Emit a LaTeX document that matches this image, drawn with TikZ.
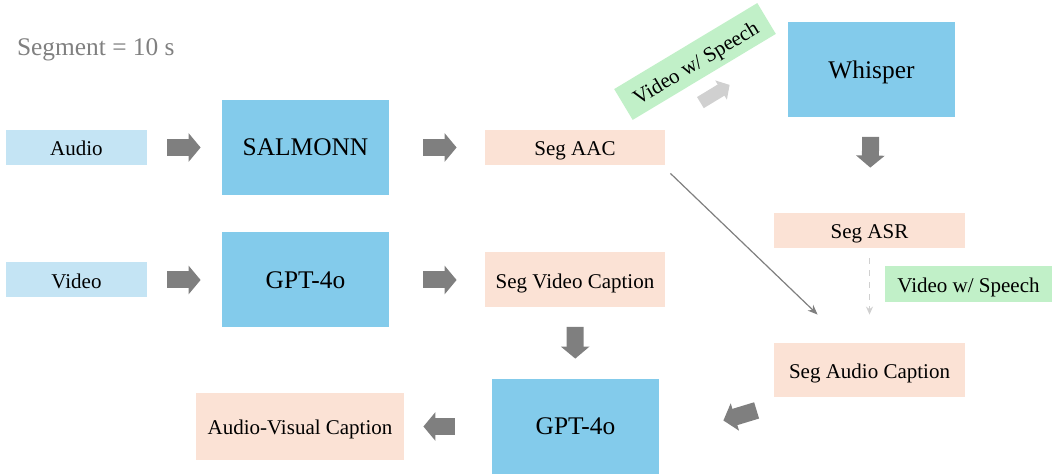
\documentclass[tikz,border=0pt]{standalone}
\usepackage{fontspec}
\setmainfont{Liberation Serif}
\usetikzlibrary{arrows.meta,calc,positioning}
\definecolor{inblue}{HTML}{C4E4F4}
\definecolor{modelblue}{HTML}{83CBEB}
\definecolor{outpeach}{HTML}{FBE2D5}
\definecolor{speechgreen}{HTML}{C1F0C8}
\definecolor{arrowgray}{HTML}{7F7F7F}
\definecolor{lightarrow}{HTML}{D0D0D0}
\tikzstyle{inbox} = [rectangle, fill=inblue, inner sep=0pt, minimum width=70.5pt, minimum height=17.5pt, text centered, text height=0.85em, text depth=0pt, font=\fontsize{10.5}{12}\selectfont]
\tikzstyle{model} = [rectangle, fill=modelblue, inner sep=0pt, minimum width=83.5pt, minimum height=47.5pt, text centered, text height=0.85em, text depth=0pt, font=\fontsize{12.7}{14}\selectfont]
\tikzstyle{outbox} = [rectangle, fill=outpeach, inner sep=0pt, text centered, text height=0.85em, text depth=0pt, font=\fontsize{10.5}{12}\selectfont]
\tikzstyle{speech} = [rectangle, fill=speechgreen, inner sep=0pt, minimum width=83.5pt, minimum height=18pt, text centered, text height=0.85em, text depth=0pt, font=\fontsize{10.5}{12}\selectfont]
\tikzstyle{fat} = [line width=8.5pt, arrowgray, -{Triangle[length=6pt,width=14pt]}]
\tikzstyle{thin} = [line width=0.6pt, arrowgray, -{Stealth[length=5pt,width=4pt]}]

\begin{document}
\begin{tikzpicture}[x=0.5pt, y=-0.5pt]

    \useasboundingbox (0,0) rectangle (1056,474);

    \node[text=gray, anchor=west, font=\fontsize{12.7}{14}\selectfont]
    (seglen) at (10,50) {Segment = 10 s};

    % inputs
    \node[inbox] (audio) at (76.5,147.5) {Audio};
    \node[inbox] (video) at (76.5,280) {Video};

    % models
    \node[model] (salmonn) at (305.5,147.5) {SALMONN};
    \node[model] (gptv) at (305.5,280) {GPT-4o};
    \node[model] (whisper) at (871.5,70) {Whisper};
    \node[model] (gptav) at (575.5,426.5) {GPT-4o};

    % outputs
    \node[outbox, minimum width=90pt, minimum height=17.5pt]
    (segaac) at (575,147.5) {Seg AAC};
    \node[outbox, minimum width=90pt, minimum height=27.5pt]
    (segvid) at (575,280) {Seg Video Caption};
    \node[outbox, minimum width=95.5pt, minimum height=17.5pt]
    (segasr) at (869.5,230.5) {Seg ASR};
    \node[outbox, minimum width=95.5pt, minimum height=27pt]
    (segaud) at (869.5,370) {Seg Audio Caption};
    \node[outbox, minimum width=104pt, minimum height=33.5pt]
    (avcap) at (300,426.5) {Audio-Visual Caption};

    % speech condition
    \node[speech] (speechtag) at (968.5,284) {Video w/ Speech};
    \node[speech, rotate=31] (speechrot) at (695,61.5) {Video w/ Speech};

    \draw [fat, shorten <=10pt, shorten >=10.5pt] (audio) -- (salmonn);
    \draw [fat, shorten <=17pt, shorten >=14pt] (salmonn) -- (segaac);
    \draw [fat, shorten <=10pt, shorten >=10.5pt] (video) -- (gptv);
    \draw [fat, shorten <=17pt, shorten >=14pt] (gptv) -- (segvid);
    \draw [fat, shorten <=9.5pt, shorten >=22.5pt] (whisper) -- (segasr);
    \draw [fat, shorten <=9.5pt, shorten >=10pt] (segvid) -- (gptav);
    \draw [fat, shorten <=18.5pt, shorten >=9.5pt] (gptav) -- (avcap);
    \draw [fat] ([shift={(-17,13)}]segaud.south west) -- ([shift={(64,-6)}]gptav.east);
    \draw [line width=6.5pt, lightarrow, -{Triangle[length=5pt,width=11pt]}]
        ([shift={(35,-27)}]segaac.north east) -- ([shift={(-58,-33)}]whisper.south west);
    \draw [thin] ([shift={(5,8)}]segaac.south east) -- ([shift={(44,-28)}]segaud.north west);
    \draw [lightarrow, dashed, line width=0.6pt, -{Stealth[length=4pt,width=3.5pt]},
        shorten <=5pt, shorten >=14pt] (segasr) -- (segaud);

\end{tikzpicture}
\end{document}
